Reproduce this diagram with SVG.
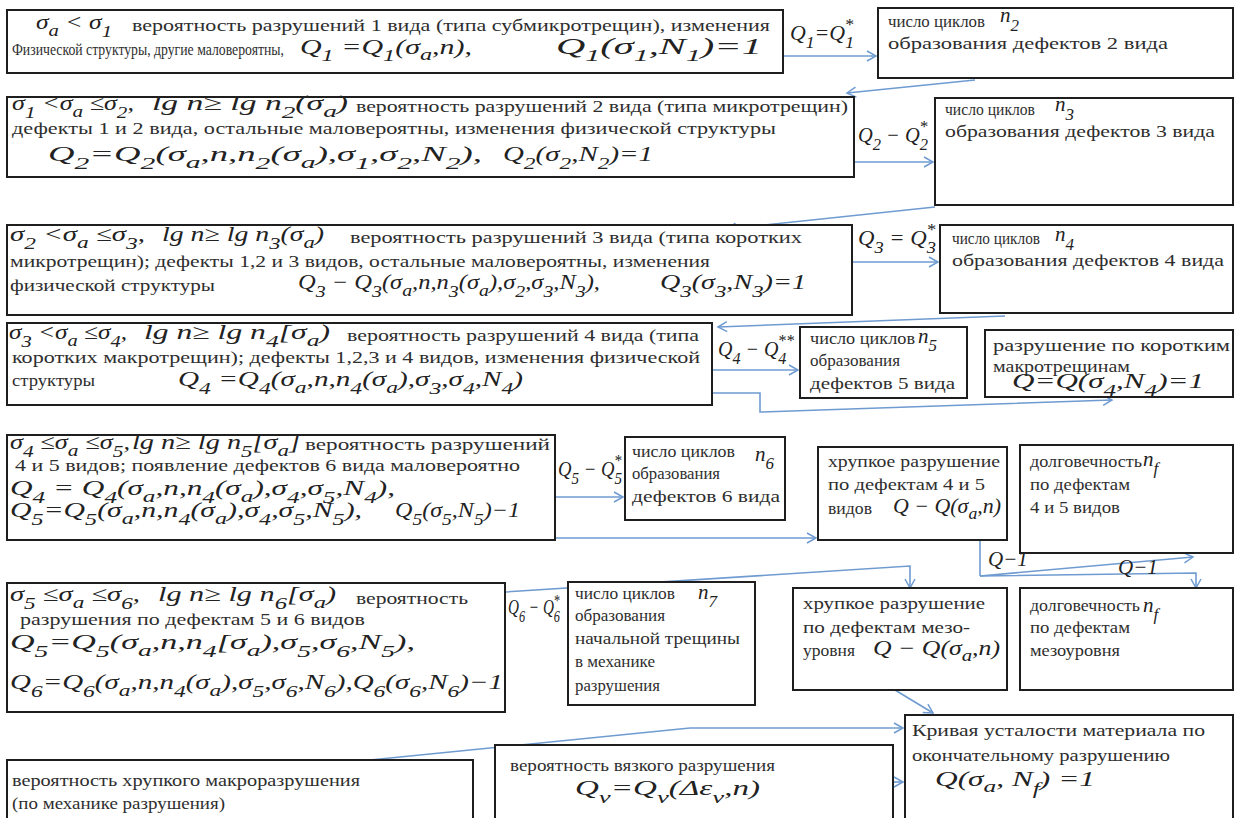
<svg xmlns="http://www.w3.org/2000/svg" width="1242" height="818" viewBox="0 0 1242 818" font-family="Liberation Serif, serif">
<defs>
<style>
.box{fill:#fff;stroke:#1e1e1e;stroke-width:2}
.t{font-family:Liberation Serif, Times New Roman, serif;font-size:17px;fill:#2e2e2e}
.m{font-family:Liberation Serif, Times New Roman, serif;font-style:italic;font-size:21px;fill:#222}
.b{font-size:17px}
.c{fill:none;stroke:#6f9bd1;stroke-width:1.6}
.ca{fill:none;stroke:#6f9bd1;stroke-width:1.6;marker-end:url(#ah)}
</style>
<marker id="ah" markerWidth="12" markerHeight="12" refX="10" refY="6" orient="auto" markerUnits="userSpaceOnUse">
<path d="M1,1 L10,6 L1,11" fill="none" stroke="#6f9bd1" stroke-width="1.5"/>
</marker>
</defs>
<rect width="1242" height="818" fill="#fff"/>

<g id="connectors">
<path class="ca" d="M783,56 L876,56"/>
<path class="ca" d="M975,80 L847,93"/>
<path class="ca" d="M854,162 L933,162"/>
<path class="ca" d="M935,207 L727,229"/>
<path class="ca" d="M852,262 L938,262"/>
<path class="ca" d="M1005,316 L718,327"/>
<path class="ca" d="M712,370 L798,370"/>
<path class="ca" d="M712,393 L760,393 L760,412 L1112,400"/>
<path class="ca" d="M555,497 L623,497"/>
<path class="ca" d="M555,538 L816,538"/>
<path class="c" d="M980,540 L980,576"/>
<path class="ca" d="M980,576 L1193,557"/>
<path class="ca" d="M980,576 L1196,573 L1196,588"/>
<path class="ca" d="M505,592 L910,566 L910,588"/>
<path class="ca" d="M370,760 L690,728 L903,728"/>
<path class="ca" d="M893,782 L903,782"/>
<path class="ca" d="M895,690 L933,713"/>
</g>

<g id="n1">
<rect class="box" x="7" y="10" width="776" height="63"/>
<text class="m" x="36" y="29" textLength="76" lengthAdjust="spacingAndGlyphs">σ<tspan class="b" dy="7">a</tspan><tspan dy="-7"> &lt; σ</tspan><tspan class="b" dy="8">1</tspan></text>
<text class="t" x="132" y="31" textLength="638" lengthAdjust="spacingAndGlyphs">вероятность разрушений 1 вида (типа субмикротрещин), изменения</text>
<text class="t" x="12" y="55" textLength="272" lengthAdjust="spacingAndGlyphs">Физической структуры, другие маловероятны,</text>
<text class="m" x="300" y="54" textLength="172" lengthAdjust="spacingAndGlyphs">Q<tspan class="b" dy="7">1</tspan><tspan dy="-7"> =Q</tspan><tspan class="b" dy="7">1</tspan><tspan dy="-7">(σ</tspan><tspan class="b" dy="6">a</tspan><tspan dy="-6">,n),</tspan></text>
<text class="m" x="556" y="54" textLength="206" lengthAdjust="spacingAndGlyphs" style="font-size:23px">Q<tspan class="b" dy="7">1</tspan><tspan dy="-7">(σ</tspan><tspan class="b" dy="7">1</tspan><tspan dy="-7">,N</tspan><tspan class="b" dy="7">1</tspan><tspan dy="-7">)=1</tspan></text>
</g>
<text id="l1" class="m" x="790" y="40" textLength="64" lengthAdjust="spacingAndGlyphs">Q<tspan class="b" dy="8">1</tspan><tspan dy="-8">=Q</tspan><tspan class="b" dy="8">1</tspan><tspan class="b" dx="-9" dy="-18">*</tspan></text>

<g id="n2">
<rect class="box" x="878" y="8" width="355" height="70"/>
<text class="t" x="888" y="27" textLength="97" lengthAdjust="spacingAndGlyphs">число циклов</text>
<text class="m" x="1000" y="22">n<tspan class="b" dy="9">2</tspan></text>
<text class="t" x="888" y="49" textLength="280" lengthAdjust="spacingAndGlyphs">образования дефектов 2 вида</text>
</g>

<g id="n3">
<rect class="box" x="7" y="97" width="847" height="80"/>
<text class="m" x="12" y="110" textLength="122" lengthAdjust="spacingAndGlyphs">σ<tspan class="b" dy="8">1</tspan><tspan dy="-8"> &lt;σ</tspan><tspan class="b" dy="7">a</tspan><tspan dy="-7"> ≤σ</tspan><tspan class="b" dy="8">2</tspan><tspan dy="-8">,</tspan></text>
<text class="m" x="152" y="110" textLength="196" lengthAdjust="spacingAndGlyphs">lg n≥ lg n<tspan class="b" dy="8">2</tspan><tspan dy="-8">(σ</tspan><tspan class="b" dy="7">a</tspan><tspan dy="-7">)</tspan></text>
<text class="t" x="356" y="112" textLength="492" lengthAdjust="spacingAndGlyphs">вероятность разрушений 2 вида (типа микротрещин)</text>
<text class="t" x="12" y="134" textLength="764" lengthAdjust="spacingAndGlyphs">дефекты 1 и 2 вида, остальные маловероятны, изменения физической структуры</text>
<text class="m" x="48" y="161" textLength="434" lengthAdjust="spacingAndGlyphs">Q<tspan class="b" dy="8">2</tspan><tspan dy="-8">=Q</tspan><tspan class="b" dy="8">2</tspan><tspan dy="-8">(σ</tspan><tspan class="b" dy="7">a</tspan><tspan dy="-7">,n,n</tspan><tspan class="b" dy="8">2</tspan><tspan dy="-8">(σ</tspan><tspan class="b" dy="7">a</tspan><tspan dy="-7">),σ</tspan><tspan class="b" dy="8">1</tspan><tspan dy="-8">,σ</tspan><tspan class="b" dy="8">2</tspan><tspan dy="-8">,N</tspan><tspan class="b" dy="8">2</tspan><tspan dy="-8">),</tspan></text>
<text class="m" x="503" y="161" textLength="150" lengthAdjust="spacingAndGlyphs">Q<tspan class="b" dy="8">2</tspan><tspan dy="-8">(σ</tspan><tspan class="b" dy="8">2</tspan><tspan dy="-8">,N</tspan><tspan class="b" dy="8">2</tspan><tspan dy="-8">)=1</tspan></text>
</g>
<text id="l2" class="m" x="858" y="142" textLength="70" lengthAdjust="spacingAndGlyphs">Q<tspan class="b" dy="8">2</tspan><tspan dy="-8"> − Q</tspan><tspan class="b" dy="8">2</tspan><tspan class="b" dx="-9" dy="-18">*</tspan></text>

<g id="n4">
<rect class="box" x="935" y="98" width="298" height="107"/>
<text class="t" x="945" y="115" textLength="90" lengthAdjust="spacingAndGlyphs">число циклов</text>
<text class="m" x="1055" y="111">n<tspan class="b" dy="9">3</tspan></text>
<text class="t" x="945" y="137" textLength="270" lengthAdjust="spacingAndGlyphs">образования дефектов 3 вида</text>
</g>

<g id="n5">
<rect class="box" x="7" y="225" width="845" height="90"/>
<text class="m" x="10" y="241" textLength="135" lengthAdjust="spacingAndGlyphs">σ<tspan class="b" dy="8">2</tspan><tspan dy="-8"> &lt;σ</tspan><tspan class="b" dy="7">a</tspan><tspan dy="-7"> ≤σ</tspan><tspan class="b" dy="8">3</tspan><tspan dy="-8">,</tspan></text>
<text class="m" x="162" y="241" textLength="162" lengthAdjust="spacingAndGlyphs">lg n≥ lg n<tspan class="b" dy="8">3</tspan><tspan dy="-8">(σ</tspan><tspan class="b" dy="7">a</tspan><tspan dy="-7">)</tspan></text>
<text class="t" x="350" y="243" textLength="452" lengthAdjust="spacingAndGlyphs">вероятность разрушений 3 вида (типа коротких</text>
<text class="t" x="10" y="267" textLength="700" lengthAdjust="spacingAndGlyphs">микротрещин); дефекты 1,2 и 3 видов, остальные  маловероятны, изменения</text>
<text class="t" x="10" y="291" textLength="205" lengthAdjust="spacingAndGlyphs">физической структуры</text>
<text class="m" x="298" y="289" textLength="302" lengthAdjust="spacingAndGlyphs">Q<tspan class="b" dy="8">3</tspan><tspan dy="-8"> − Q</tspan><tspan class="b" dy="8">3</tspan><tspan dy="-8">(σ</tspan><tspan class="b" dy="7">a</tspan><tspan dy="-7">,n,n</tspan><tspan class="b" dy="8">3</tspan><tspan dy="-8">(σ</tspan><tspan class="b" dy="7">a</tspan><tspan dy="-7">),σ</tspan><tspan class="b" dy="8">2</tspan><tspan dy="-8">,σ</tspan><tspan class="b" dy="8">3</tspan><tspan dy="-8">,N</tspan><tspan class="b" dy="8">3</tspan><tspan dy="-8">),</tspan></text>
<text class="m" x="660" y="289" textLength="146" lengthAdjust="spacingAndGlyphs">Q<tspan class="b" dy="8">3</tspan><tspan dy="-8">(σ</tspan><tspan class="b" dy="8">3</tspan><tspan dy="-8">,N</tspan><tspan class="b" dy="8">3</tspan><tspan dy="-8">)=1</tspan></text>
</g>
<text id="l3" class="m" x="858" y="245" textLength="78" lengthAdjust="spacingAndGlyphs">Q<tspan class="b" dy="8">3</tspan><tspan dy="-8"> = Q</tspan><tspan class="b" dy="8">3</tspan><tspan class="b" dx="-9" dy="-18">*</tspan></text>

<g id="n6">
<rect class="box" x="940" y="225" width="293" height="88"/>
<text class="t" x="952" y="244" textLength="88" lengthAdjust="spacingAndGlyphs">число циклов</text>
<text class="m" x="1055" y="241">n<tspan class="b" dy="9">4</tspan></text>
<text class="t" x="952" y="266" textLength="272" lengthAdjust="spacingAndGlyphs">образования дефектов 4 вида</text>
</g>

<g id="n7">
<rect class="box" x="7" y="323" width="705" height="82"/>
<text class="m" x="9" y="339" textLength="118" lengthAdjust="spacingAndGlyphs">σ<tspan class="b" dy="8">3</tspan><tspan dy="-8"> &lt;σ</tspan><tspan class="b" dy="7">a</tspan><tspan dy="-7"> ≤σ</tspan><tspan class="b" dy="8">4</tspan><tspan dy="-8">,</tspan></text>
<text class="m" x="144" y="339" textLength="186" lengthAdjust="spacingAndGlyphs">lg n≥ lg n<tspan class="b" dy="8">4</tspan><tspan dy="-8">[σ</tspan><tspan class="b" dy="7">a</tspan><tspan dy="-7">)</tspan></text>
<text class="t" x="347" y="341" textLength="352" lengthAdjust="spacingAndGlyphs">вероятность разрушений 4 вида (типа</text>
<text class="t" x="12" y="363" textLength="688" lengthAdjust="spacingAndGlyphs">коротких макротрещин); дефекты 1,2,3 и 4 видов, изменения физической</text>
<text class="t" x="12" y="386" textLength="83" lengthAdjust="spacingAndGlyphs">структуры</text>
<text class="m" x="178" y="386" textLength="345" lengthAdjust="spacingAndGlyphs">Q<tspan class="b" dy="8">4</tspan><tspan dy="-8"> =Q</tspan><tspan class="b" dy="8">4</tspan><tspan dy="-8">(σ</tspan><tspan class="b" dy="7">a</tspan><tspan dy="-7">,n,n</tspan><tspan class="b" dy="8">4</tspan><tspan dy="-8">(σ</tspan><tspan class="b" dy="7">a</tspan><tspan dy="-7">),σ</tspan><tspan class="b" dy="8">3</tspan><tspan dy="-8">,σ</tspan><tspan class="b" dy="8">4</tspan><tspan dy="-8">,N</tspan><tspan class="b" dy="8">4</tspan><tspan dy="-8">)</tspan></text>
</g>
<text id="l4" class="m" x="718" y="356" textLength="76" lengthAdjust="spacingAndGlyphs">Q<tspan class="b" dy="8">4</tspan><tspan dy="-8"> − Q</tspan><tspan class="b" dy="8">4</tspan><tspan class="b" dx="-9" dy="-18">**</tspan></text>

<g id="n8">
<rect class="box" x="800" y="327" width="167" height="71"/>
<text class="t" x="810" y="344" textLength="105" lengthAdjust="spacingAndGlyphs">число циклов</text>
<text class="m" x="918" y="343">n<tspan class="b" dy="8">5</tspan></text>
<text class="t" x="810" y="366" textLength="90" lengthAdjust="spacingAndGlyphs">образования</text>
<text class="t" x="810" y="389" textLength="145" lengthAdjust="spacingAndGlyphs">дефектов 5 вида</text>
</g>

<g id="n9">
<rect class="box" x="985" y="330" width="248" height="67"/>
<text class="t" x="993" y="351" textLength="237" lengthAdjust="spacingAndGlyphs">разрушение по коротким</text>
<text class="t" x="993" y="372" textLength="137" lengthAdjust="spacingAndGlyphs">макротрещинам</text>
<text class="m" x="1012" y="388" textLength="192" lengthAdjust="spacingAndGlyphs">Q=Q(σ<tspan class="b" dy="8">4</tspan><tspan dy="-8">,N</tspan><tspan class="b" dy="8">4</tspan><tspan dy="-8">)=1</tspan></text>
</g>

<g id="n10">
<rect class="box" x="7" y="435" width="548" height="105"/>
<text class="m" x="10" y="449" textLength="120" lengthAdjust="spacingAndGlyphs">σ<tspan class="b" dy="8">4</tspan><tspan dy="-8"> ≤σ</tspan><tspan class="b" dy="7">a</tspan><tspan dy="-7"> ≤σ</tspan><tspan class="b" dy="8">5</tspan><tspan dy="-8">,</tspan></text>
<text class="m" x="132" y="449" textLength="168" lengthAdjust="spacingAndGlyphs">lg n≥ lg n<tspan class="b" dy="8">5</tspan><tspan dy="-8">[σ</tspan><tspan class="b" dy="7">a</tspan><tspan dy="-7">]</tspan></text>
<text class="t" x="305" y="450" textLength="245" lengthAdjust="spacingAndGlyphs">вероятность разрушений</text>
<text class="t" x="15" y="471" textLength="505" lengthAdjust="spacingAndGlyphs">4 и 5 видов; появление дефектов 6 вида маловероятно</text>
<text class="m" x="10" y="495" textLength="385" lengthAdjust="spacingAndGlyphs">Q<tspan class="b" dy="8">4</tspan><tspan dy="-8"> = Q</tspan><tspan class="b" dy="8">4</tspan><tspan dy="-8">(σ</tspan><tspan class="b" dy="7">a</tspan><tspan dy="-7">,n,n</tspan><tspan class="b" dy="8">4</tspan><tspan dy="-8">(σ</tspan><tspan class="b" dy="7">a</tspan><tspan dy="-7">),σ</tspan><tspan class="b" dy="8">4</tspan><tspan dy="-8">,σ</tspan><tspan class="b" dy="8">5</tspan><tspan dy="-8">,N</tspan><tspan class="b" dy="8">4</tspan><tspan dy="-8">),</tspan></text>
<text class="m" x="10" y="517" textLength="352" lengthAdjust="spacingAndGlyphs">Q<tspan class="b" dy="8">5</tspan><tspan dy="-8">=Q</tspan><tspan class="b" dy="8">5</tspan><tspan dy="-8">(σ</tspan><tspan class="b" dy="7">a</tspan><tspan dy="-7">,n,n</tspan><tspan class="b" dy="8">4</tspan><tspan dy="-8">(σ</tspan><tspan class="b" dy="7">a</tspan><tspan dy="-7">),σ</tspan><tspan class="b" dy="8">4</tspan><tspan dy="-8">,σ</tspan><tspan class="b" dy="8">5</tspan><tspan dy="-8">,N</tspan><tspan class="b" dy="8">5</tspan><tspan dy="-8">),</tspan></text>
<text class="m" x="395" y="517" textLength="125" lengthAdjust="spacingAndGlyphs">Q<tspan class="b" dy="8">5</tspan><tspan dy="-8">(σ</tspan><tspan class="b" dy="8">5</tspan><tspan dy="-8">,N</tspan><tspan class="b" dy="8">5</tspan><tspan dy="-8">)−1</tspan></text>
</g>
<text id="l5" class="m" x="558" y="476" textLength="64" lengthAdjust="spacingAndGlyphs">Q<tspan class="b" dy="8">5</tspan><tspan dy="-8"> − Q</tspan><tspan class="b" dy="8">5</tspan><tspan class="b" dx="-9" dy="-18">*</tspan></text>

<g id="n11">
<rect class="box" x="625" y="437" width="160" height="83"/>
<text class="t" x="632" y="457" textLength="103" lengthAdjust="spacingAndGlyphs">число циклов</text>
<text class="m" x="755" y="461">n<tspan class="b" dy="8">6</tspan></text>
<text class="t" x="632" y="479" textLength="88" lengthAdjust="spacingAndGlyphs">образования</text>
<text class="t" x="632" y="502" textLength="148" lengthAdjust="spacingAndGlyphs">дефектов 6 вида</text>
</g>

<g id="n12">
<rect class="box" x="818" y="447" width="189" height="93"/>
<text class="t" x="828" y="467" textLength="172" lengthAdjust="spacingAndGlyphs">хрупкое разрушение</text>
<text class="t" x="828" y="490" textLength="157" lengthAdjust="spacingAndGlyphs">по дефектам 4 и 5</text>
<text class="t" x="828" y="514" textLength="44" lengthAdjust="spacingAndGlyphs">видов</text>
<text class="m" x="893" y="513" textLength="108" lengthAdjust="spacingAndGlyphs">Q − Q(σ<tspan class="b" dy="6">a</tspan><tspan dy="-6">,n)</tspan></text>
</g>

<g id="n13">
<rect class="box" x="1020" y="445" width="213" height="108"/>
<text class="t" x="1030" y="467" textLength="112" lengthAdjust="spacingAndGlyphs">долговечность</text>
<text class="m" x="1143" y="466">n<tspan class="b" dy="8">f</tspan></text>
<text class="t" x="1030" y="490" textLength="100" lengthAdjust="spacingAndGlyphs">по дефектам</text>
<text class="t" x="1030" y="513" textLength="90" lengthAdjust="spacingAndGlyphs">4 и 5 видов</text>
</g>
<text id="l7" class="m" x="988" y="566">Q−1</text>
<text id="l8" class="m" x="1118" y="574">Q−1</text>

<g id="n14">
<rect class="box" x="7" y="583" width="498" height="129"/>
<text class="m" x="10" y="601" textLength="130" lengthAdjust="spacingAndGlyphs">σ<tspan class="b" dy="8">5</tspan><tspan dy="-8"> ≤σ</tspan><tspan class="b" dy="7">a</tspan><tspan dy="-7"> ≤σ</tspan><tspan class="b" dy="8">6</tspan><tspan dy="-8">,</tspan></text>
<text class="m" x="158" y="601" textLength="178" lengthAdjust="spacingAndGlyphs">lg n≥ lg n<tspan class="b" dy="8">6</tspan><tspan dy="-8">[σ</tspan><tspan class="b" dy="7">a</tspan><tspan dy="-7">)</tspan></text>
<text class="t" x="356" y="604" textLength="112" lengthAdjust="spacingAndGlyphs">вероятность</text>
<text class="t" x="20" y="625" textLength="345" lengthAdjust="spacingAndGlyphs">разрушения по дефектам 5 и 6 видов</text>
<text class="m" x="10" y="649" textLength="405" lengthAdjust="spacingAndGlyphs">Q<tspan class="b" dy="8">5</tspan><tspan dy="-8">=Q</tspan><tspan class="b" dy="8">5</tspan><tspan dy="-8">(σ</tspan><tspan class="b" dy="7">a</tspan><tspan dy="-7">,n,n</tspan><tspan class="b" dy="8">4</tspan><tspan dy="-8">[σ</tspan><tspan class="b" dy="7">a</tspan><tspan dy="-7">),σ</tspan><tspan class="b" dy="8">5</tspan><tspan dy="-8">,σ</tspan><tspan class="b" dy="8">6</tspan><tspan dy="-8">,N</tspan><tspan class="b" dy="8">5</tspan><tspan dy="-8">),</tspan></text>
<text class="m" x="10" y="689" textLength="493" lengthAdjust="spacingAndGlyphs">Q<tspan class="b" dy="8">6</tspan><tspan dy="-8">=Q</tspan><tspan class="b" dy="8">6</tspan><tspan dy="-8">(σ</tspan><tspan class="b" dy="7">a</tspan><tspan dy="-7">,n,n</tspan><tspan class="b" dy="8">4</tspan><tspan dy="-8">(σ</tspan><tspan class="b" dy="7">a</tspan><tspan dy="-7">),σ</tspan><tspan class="b" dy="8">5</tspan><tspan dy="-8">,σ</tspan><tspan class="b" dy="8">6</tspan><tspan dy="-8">,N</tspan><tspan class="b" dy="8">6</tspan><tspan dy="-8">),Q</tspan><tspan class="b" dy="8">6</tspan><tspan dy="-8">(σ</tspan><tspan class="b" dy="8">6</tspan><tspan dy="-8">,N</tspan><tspan class="b" dy="8">6</tspan><tspan dy="-8">)−1</tspan></text>
</g>
<text id="l6" class="m" x="508" y="614" textLength="52" lengthAdjust="spacingAndGlyphs">Q<tspan class="b" dy="8">6</tspan><tspan dy="-8"> − Q</tspan><tspan class="b" dy="8">6</tspan><tspan class="b" dx="-9" dy="-16">*</tspan></text>

<g id="n15">
<rect class="box" x="568" y="582" width="187" height="123"/>
<text class="t" x="575" y="599" textLength="100" lengthAdjust="spacingAndGlyphs">число циклов</text>
<text class="m" x="698" y="599">n<tspan class="b" dy="8">7</tspan></text>
<text class="t" x="575" y="621" textLength="90" lengthAdjust="spacingAndGlyphs">образования</text>
<text class="t" x="575" y="644" textLength="165" lengthAdjust="spacingAndGlyphs">начальной трещины</text>
<text class="t" x="575" y="667" textLength="80" lengthAdjust="spacingAndGlyphs">в механике</text>
<text class="t" x="575" y="691" textLength="85" lengthAdjust="spacingAndGlyphs">разрушения</text>
</g>

<g id="n16">
<rect class="box" x="793" y="588" width="214" height="102"/>
<text class="t" x="803" y="609" textLength="182" lengthAdjust="spacingAndGlyphs">хрупкое разрушение</text>
<text class="t" x="803" y="633" textLength="167" lengthAdjust="spacingAndGlyphs">по дефектам мезо-</text>
<text class="t" x="803" y="656" textLength="52" lengthAdjust="spacingAndGlyphs">уровня</text>
<text class="m" x="873" y="655" textLength="127" lengthAdjust="spacingAndGlyphs">Q − Q(σ<tspan class="b" dy="6">a</tspan><tspan dy="-6">,n)</tspan></text>
</g>

<g id="n17">
<rect class="box" x="1020" y="588" width="213" height="102"/>
<text class="t" x="1030" y="611" textLength="110" lengthAdjust="spacingAndGlyphs">долговечность</text>
<text class="m" x="1143" y="612">n<tspan class="b" dy="8">f</tspan></text>
<text class="t" x="1030" y="633" textLength="100" lengthAdjust="spacingAndGlyphs">по дефектам</text>
<text class="t" x="1030" y="656" textLength="90" lengthAdjust="spacingAndGlyphs">мезоуровня</text>
</g>

<g id="n18">
<rect class="box" x="905" y="715" width="328" height="115"/>
<text class="t" x="912" y="736" textLength="293" lengthAdjust="spacingAndGlyphs">Кривая усталости материала по</text>
<text class="t" x="912" y="761" textLength="258" lengthAdjust="spacingAndGlyphs">окончательному разрушению</text>
<text class="m" x="935" y="786" textLength="160" lengthAdjust="spacingAndGlyphs">Q(σ<tspan class="b" dy="6">a</tspan><tspan dy="-6">, N</tspan><tspan class="b" dy="8">f</tspan><tspan dy="-8">) =1</tspan></text>
</g>

<g id="n19">
<rect class="box" x="495" y="745" width="398" height="85"/>
<text class="t" x="510" y="771" textLength="265" lengthAdjust="spacingAndGlyphs">вероятность вязкого разрушения</text>
<text class="m" x="575" y="795" textLength="185" lengthAdjust="spacingAndGlyphs">Q<tspan class="b" dy="8">v</tspan><tspan dy="-8">=Q</tspan><tspan class="b" dy="8">v</tspan><tspan dy="-8">(Δε</tspan><tspan class="b" dy="8">v</tspan><tspan dy="-8">,n)</tspan></text>
</g>

<g id="n20">
<rect class="box" x="7" y="760" width="466" height="70"/>
<text class="t" x="12" y="786" textLength="348" lengthAdjust="spacingAndGlyphs">вероятность хрупкого макроразрушения</text>
<text class="t" x="12" y="809" textLength="213" lengthAdjust="spacingAndGlyphs">(по механике разрушения)</text>
</g>
</svg>
